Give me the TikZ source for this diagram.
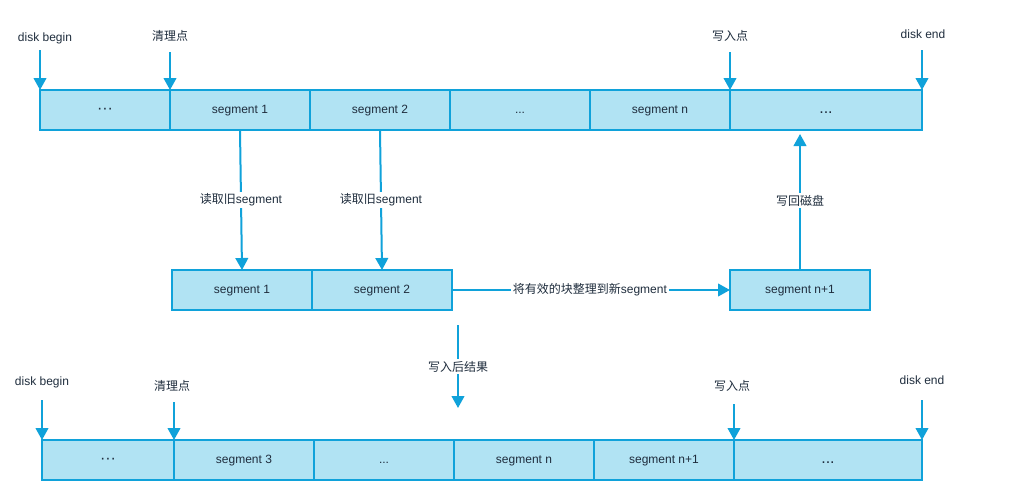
\documentclass[tikz,border=0pt]{standalone}
\usepackage{fontspec}
\setmainfont{Liberation Sans}
\newfontfamily\cjk{Noto Sans CJK SC}
\usetikzlibrary{arrows.meta}
\definecolor{segfill}{HTML}{B1E3F3}
\definecolor{segdraw}{HTML}{10A2DA}
\definecolor{txt}{HTML}{1F2D3D}
\begin{document}
\begin{tikzpicture}[x=0.75pt,y=-0.75pt,
  every node/.style={font=\fontsize{9}{11}\selectfont, text=txt},
  seg/.style={draw=segdraw, fill=segfill, line width=1.5pt, outer sep=0pt, minimum height=30pt, inner sep=0pt, minimum width=105pt, text height=6.5pt, text depth=1.5pt},
  arr/.style={draw=segdraw, line width=1.5pt, -{Triangle[width=9.5pt,length=9pt]}},
  lab/.style={fill=white, inner sep=1.5pt},
  big/.style={font=\fontsize{12}{14}\selectfont}]
\useasboundingbox (0,0) rectangle (1016,500);
% top row
\node[seg, minimum width=97.5pt, big, text height=5pt, text depth=0pt] (t0) at (105,110) {\textperiodcentered\textperiodcentered\textperiodcentered};
\node[seg] (t1) at (240,110) {segment 1};
\node[seg] (t2) at (380,110) {segment 2};
\node[seg] (t3) at (520,110) {...};
\node[seg] (t4) at (660,110) {segment n};
\node[seg, minimum width=144pt, big] (t5) at (826,110) {...};
% top labels
\node (l1) at (45,38) {disk begin};
\node (l2) at (170,36) {\cjk 清理点};
\node (l3) at (730,36) {\cjk 写入点};
\node (l4) at (923,34) {disk end};
\coordinate (c1) at (40,50);
\coordinate (c2) at (170,52);
\coordinate (c3) at (730,52);
\coordinate (c4) at (922,50);
\draw[arr] (c1) -- (t0.north west);
\draw[arr] (c2) -- (t1.north west);
\draw[arr] (c3) -- (t5.north west);
\draw[arr] (c4) -- (t5.north east);
% middle row
\node[seg] (m1) at (242,290) {segment 1};
\node[seg] (m2) at (382,290) {segment 2};
\node[seg] (n1) at (800,290) {segment n+1};
\draw[arr] (t1.south) -- node[lab, pos=0.5] {{\cjk 读取旧}segment} (m1.north);
\draw[arr] (t2.south) -- node[lab, pos=0.5] {{\cjk 读取旧}segment} (m2.north);
\draw[arr] (m2.east) -- node[lab, pos=0.496] {{\cjk 将有效的块整理到新}segment} (n1.west);
\coordinate (up) at (800,134);
\draw[arr] (n1.north) -- node[lab, pos=0.51] {\cjk 写回磁盘} (up);
\coordinate (r1) at (458,325);
\coordinate (r2) at (458,408);
\draw[arr] (r1) -- node[lab, pos=0.5] {\cjk 写入后结果} (r2);
% bottom row
\node[seg, minimum width=99pt, big, text height=5pt, text depth=0pt] (b0) at (108,460) {\textperiodcentered\textperiodcentered\textperiodcentered};
\node[seg] (b1) at (244,460) {segment 3};
\node[seg] (b2) at (384,460) {...};
\node[seg] (b3) at (524,460) {segment n};
\node[seg] (b4) at (664,460) {segment n+1};
\node[seg, minimum width=141pt, big] (b5) at (828,460) {...};
\node (k1) at (42,382) {disk begin};
\node (k2) at (172,386) {\cjk 清理点};
\node (k3) at (732,386) {\cjk 写入点};
\node (k4) at (922,380) {disk end};
\coordinate (d1) at (42,400);
\coordinate (d2) at (174,402);
\coordinate (d3) at (734,404);
\coordinate (d4) at (922,400);
\draw[arr] (d1) -- (b0.north west);
\draw[arr] (d2) -- (b1.north west);
\draw[arr] (d3) -- (b5.north west);
\draw[arr] (d4) -- (b5.north east);
\end{tikzpicture}
\end{document}
